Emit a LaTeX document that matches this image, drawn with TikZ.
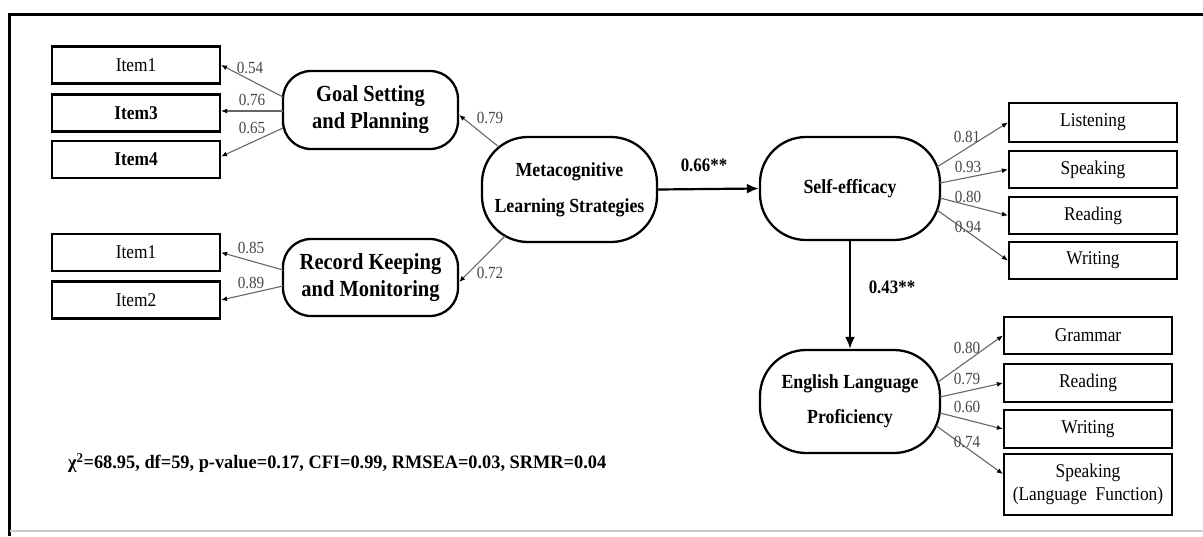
\documentclass[tikz,border=0pt]{standalone}
\usepackage{fontspec}
\setmainfont[FakeStretch=0.89]{Liberation Serif}
\usepackage{graphicx}
\usetikzlibrary{calc,arrows.meta}
\tikzset{
  itembox/.style={draw, line width=2.2pt, minimum width=168pt, minimum height=37pt, inner sep=0pt, align=center, font=\fontsize{19.5}{23}\selectfont},
  latentsm/.style={draw, line width=2.3pt, rounded corners=28pt, minimum width=175pt, minimum height=78pt, inner sep=0pt, align=center, font=\bfseries\fontsize{23}{27}\selectfont},
  latentbig/.style={draw, line width=2.3pt, rounded corners=46pt, minimum width=180pt, minimum height=103pt, inner sep=0pt, align=center, font=\bfseries\fontsize{20}{36}\selectfont},
  loadline/.style={draw=black!60, line width=1.1pt, -{Latex[length=6pt,width=5pt,color=black]}},
  structline/.style={draw=black, line width=2.2pt, -{Latex[length=12pt,width=10pt]}},
  lbl/.style={text=black!72, inner sep=0pt, font=\fontsize{17}{18}\selectfont},
  blbl/.style={text=black, inner sep=0pt, font=\bfseries\fontsize{19}{21}\selectfont},
}
\begin{document}
\begin{tikzpicture}[x=1pt, y=-1pt]
\useasboundingbox (0,0) rectangle (1203,536);
% frame
\draw[line width=3.5pt] (9.5,536) -- (9.5,14.5) -- (1203,14.5);
\draw[black!20, line width=1.5pt] (9.5,531) -- (1203,531);

% left indicators
\node[itembox] (i1a) at (136,65) {Item1};
\node[itembox, font=\bfseries\fontsize{19.5}{23}\selectfont] (i3) at (136,113) {Item3};
\node[itembox, font=\bfseries\fontsize{19.5}{23}\selectfont] (i4) at (136,159.5) {Item4};
\node[itembox] (i1b) at (136,252.5) {Item1};
\node[itembox] (i2) at (136,300) {Item2};

% first order latents
\node[latentsm] (gs) at (370.5,110) {Goal Setting\\and Planning};
\node[latentsm, minimum height=77pt] (rk) at (370.5,277.5) {Record Keeping\\and Monitoring};

% second order and outcomes
\node[latentbig, minimum width=175pt, minimum height=105pt] (mc) at (569.5,189.5) {\raisebox{-4pt}{\shortstack{}}Metacognitive\\Learning Strategies};
\node[latentbig] (se) at (850,188.5) {Self-efficacy};
\node[latentbig, font=\bfseries\fontsize{20}{35}\selectfont] (elp) at (850,401.5) {English Language\\Proficiency};

% right indicators
\node[itembox, minimum height=39pt] (lis) at (1093,122.5) {Listening};
\node[itembox] (spk) at (1093,169.5) {Speaking};
\node[itembox] (rea) at (1093,215.5) {Reading};
\node[itembox] (wri) at (1093,260.5) {Writing};
\node[itembox] (gra) at (1088,335.5) {Grammar};
\node[itembox, minimum height=38pt] (rea2) at (1088,383) {Reading};
\node[itembox, minimum height=38pt] (wri2) at (1088,429) {Writing};
\node[itembox, minimum height=61pt] (spk2) at (1088,484.5) {Speaking\\(Language\ \ Function)};

% loadings left
\draw[loadline] ($(gs.center)+(-87.5,-13)$) -- (i1a.east);
\draw[loadline] ($(gs.center)+(-87.5,1)$) -- ($(i3.east)+(0,-2)$);
\draw[loadline] ($(gs.center)+(-87.5,18)$) -- ($(i4.east)+(0,-3)$);
\draw[loadline] ($(rk.center)+(-87.5,-7.5)$) -- (i1b.east);
\draw[loadline] ($(rk.center)+(-87.5,8.5)$) -- (i2.east);

% second order loadings
\draw[loadline] ($(mc.center)+(-70.5,-42.5)$) -- ($(gs.east)+(0,5)$);
\draw[loadline] ($(mc.center)+(-64.5,46.5)$) -- ($(rk.east)+(0,4.5)$);

% structural paths
\draw[structline] (mc.east) -- (se.west);
\draw[structline] (se.south) -- (elp.north);

% self-efficacy loadings
\draw[loadline] ($(se.center)+(87,-21.5)$) -- (lis.west);
\draw[loadline] ($(se.center)+(90,-5.5)$) -- (spk.west);
\draw[loadline] ($(se.center)+(90,9.5)$) -- (rea.west);
\draw[loadline] ($(se.center)+(87,21.5)$) -- (wri.west);

% ELP loadings
\draw[loadline] ($(elp.center)+(88,-19.5)$) -- (gra.west);
\draw[loadline] ($(elp.center)+(90,-4.5)$) -- (rea2.west);
\draw[loadline] ($(elp.center)+(90,11.5)$) -- (wri2.west);
\draw[loadline] ($(elp.center)+(86.5,24.5)$) -- ($(spk2.west)+(0,-10.5)$);

% labels
\node[lbl] (l054) at (250,68) {0.54};
\node[lbl] (l076) at (252,100) {0.76};
\node[lbl] (l065) at (252,128) {0.65};
\node[lbl] (l085) at (251,248) {0.85};
\node[lbl] (l089) at (251,283) {0.89};
\node[lbl] (l079) at (490,118) {0.79};
\node[lbl] (l072) at (490,273) {0.72};
\node[blbl] (l066) at (704,165) {0.66**};
\node[blbl] (l043) at (892,287) {0.43**};
\node[lbl] (l081) at (967,137) {0.81};
\node[lbl] (l093) at (968,167) {0.93};
\node[lbl] (l080) at (968,197) {0.80};
\node[lbl] (l094) at (968,227) {0.94};
\node[lbl] (m080) at (967,348) {0.80};
\node[lbl] (m079) at (967,379) {0.79};
\node[lbl] (m060) at (967,407) {0.60};
\node[lbl] (m074) at (967,442) {0.74};

% fit indices
\node[anchor=west, inner sep=0pt, font=\bfseries\fontsize{19}{21}\selectfont] (fit) at (68,463)
  {\resizebox{538pt}{\height}{χ\textsuperscript{2}=68.95, df=59, p-value=0.17, CFI=0.99, RMSEA=0.03, SRMR=0.04}};
\end{tikzpicture}
\end{document}
